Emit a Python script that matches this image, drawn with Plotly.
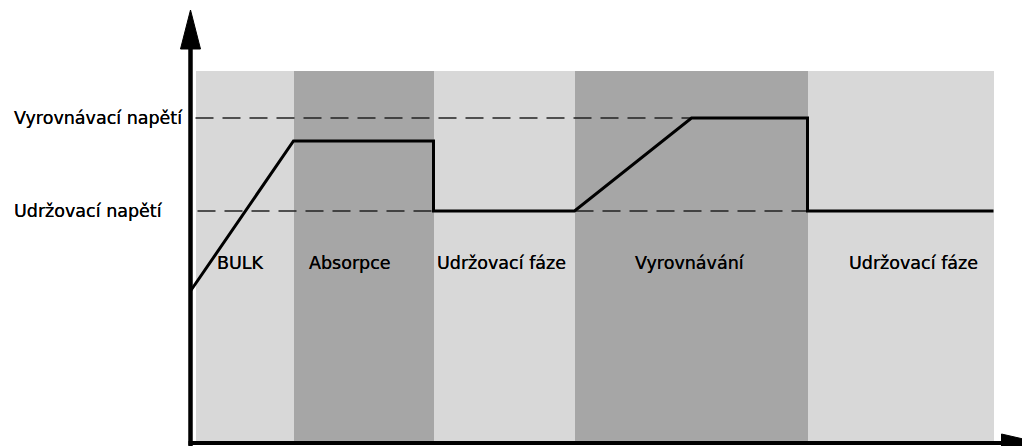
import plotly.graph_objects as go

# phase bands (time units along the horizontal axis)
phase_names = ["BULK", "Absorpce", "Udržovací fáze", "Vyrovnávání", "Udržovací fáze"]
phase_start = [5, 103, 243, 384, 617]
phase_end = [103, 243, 384, 617, 803]
phase_top = [372, 372, 372, 372, 372]
phase_label_x = [50, 159, 311, 499, 723]
phase_label_y = 180

# battery voltage curve
time_pts = [0, 103, 243, 243, 384, 501, 617, 617, 803]
volt_pts = [152, 302, 302, 232, 232, 325, 325, 232, 232]

# reference voltage levels
level_names = ["Vyrovnávací napětí", "Udržovací napětí"]
level_values = [325, 232]
level_from = [5, 7]
level_to = [501, 617]

band_colors = ["#d8d8d8", "#a6a6a6", "#d8d8d8", "#a6a6a6", "#d8d8d8"]
FONT = dict(family="DejaVu Sans", size=17.5, color="black", shadow="0px 0px 0.6px #000")

fig = go.Figure()

fig.add_trace(go.Bar(
    x=[(s + e) / 2 for s, e in zip(phase_start, phase_end)],
    y=phase_top,
    width=[e - s for s, e in zip(phase_start, phase_end)],
    marker=dict(color=band_colors, line=dict(width=0)),
    hoverinfo="skip",
    showlegend=False,
))

for v, x0, x1 in zip(level_values, level_from, level_to):
    fig.add_trace(go.Scatter(
        x=[x0, x1], y=[v, v], mode="lines",
        line=dict(color="#222222", width=1.6, dash="18px,9px"),
        showlegend=False, hoverinfo="skip",
    ))

fig.add_trace(go.Scatter(
    x=time_pts, y=volt_pts, mode="lines",
    line=dict(color="black", width=3),
    showlegend=False, hoverinfo="skip",
))

for name, v in zip(level_names, level_values):
    fig.add_annotation(
        x=-179, y=v, text=name, showarrow=False, xanchor="left", yanchor="middle",
        font=FONT,
    )

for name, x in zip(phase_names, phase_label_x):
    fig.add_annotation(
        x=x, y=phase_label_y, text=name, showarrow=False, xanchor="center", yanchor="middle",
        font=FONT,
    )

# axes with arrow heads
fig.add_shape(type="line", x0=0, y0=-3, x1=0, y1=400, line=dict(color="black", width=4.5))
fig.add_shape(type="path", path="M -10,394 L 10,394 L 0,433 Z",
              fillcolor="black", line=dict(color="black", width=1))
fig.add_shape(type="line", x0=-2, y0=0, x1=815, y1=0, line=dict(color="black", width=4))
fig.add_shape(type="path", path="M 811,9 L 811,-9 L 850,0 Z",
              fillcolor="black", line=dict(color="black", width=1))

# page body has an 8px margin, so the figure is 8px smaller than the window
fig.update_layout(
    width=1022,
    height=438,
    margin=dict(l=0, r=0, t=0, b=0),
    paper_bgcolor="white",
    plot_bgcolor="white",
    xaxis=dict(range=[-182.5, 839.5], visible=False, fixedrange=True),
    yaxis=dict(range=[-3, 435], visible=False, fixedrange=True),
    bargap=0,
)

fig.write_html("out.html", config={"displayModeBar": False})
